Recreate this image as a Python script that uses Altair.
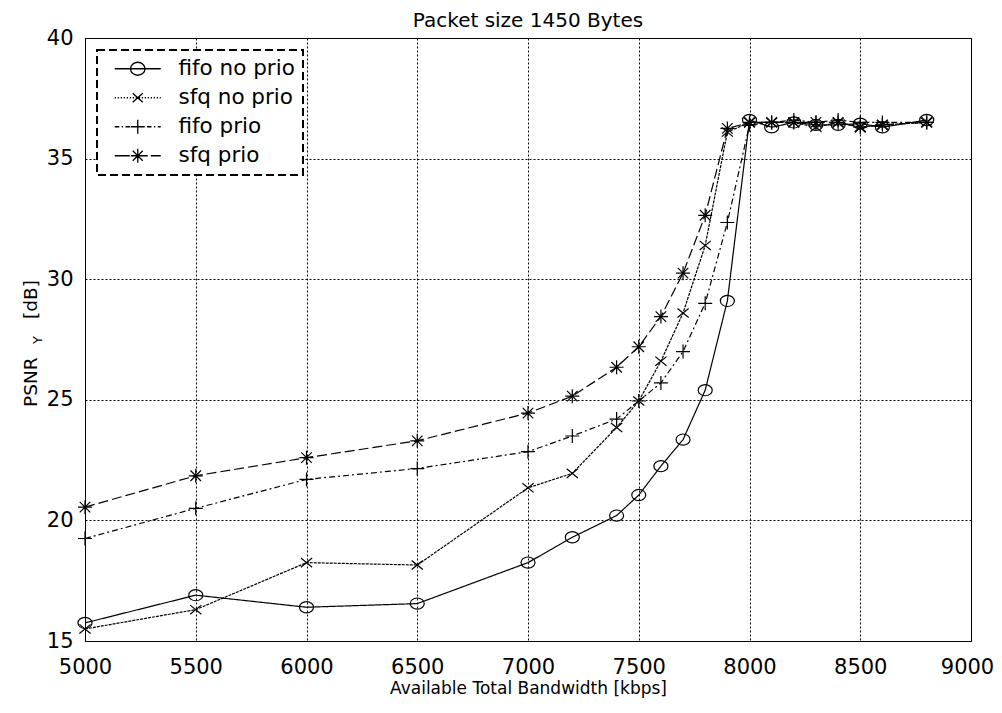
import altair as alt
import pandas as pd

# ---- data ----
x_vals = [5000, 5500, 6000, 6500, 7000, 7200, 7400, 7500, 7600, 7700, 7800,
          7900, 8000, 8100, 8200, 8300, 8400, 8500, 8600, 8800]
fifo_no_prio = [15.75, 16.9, 16.4, 16.55, 18.25, 19.3, 20.2, 21.05, 22.25, 23.35, 25.4,
                29.1, 36.6, 36.3, 36.5, 36.4, 36.4, 36.45, 36.3, 36.6]
sfq_no_prio = [15.5, 16.3, 18.25, 18.15, 21.35, 21.95, 23.85, 24.95, 26.6, 28.6, 31.4,
               36.1, 36.5, 36.5, 36.5, 36.3, 36.5, 36.3, 36.4, 36.5]
fifo_prio = [19.25, 20.5, 21.7, 22.15, 22.85, 23.5, 24.2, 24.95, 25.7, 27.0, 29.0,
             32.35, 36.4, 36.5, 36.6, 36.5, 36.6, 36.5, 36.5, 36.5]
sfq_prio = [20.55, 21.85, 22.6, 23.3, 24.45, 25.15, 26.35, 27.2, 28.45, 30.25, 32.65,
            36.25, 36.5, 36.5, 36.5, 36.5, 36.5, 36.3, 36.4, 36.5]

series_names = ["fifo no prio", "sfq no prio", "fifo prio", "sfq prio"]
x_ticks = [5000, 5500, 6000, 6500, 7000, 7500, 8000, 8500, 9000]
y_ticks = [15, 20, 25, 30, 35, 40]
chart_title = ["Packet size 1450 Bytes"]
x_title = "Available Total Bandwidth [kbps]"
y_title_parts = ["PSNR", "Y", "[dB]"]

rows = []
for name, vals in zip(series_names, [fifo_no_prio, sfq_no_prio, fifo_prio, sfq_prio]):
    for i, (x, y) in enumerate(zip(x_vals, vals)):
        rows.append({"series": name, "bw": x, "psnr": y, "idx": i})
df = pd.DataFrame(rows)

FONT = "DejaVu Sans"

# ---- marker shapes (style) ----
plot_shapes = [
    "M-1,0A1,0.8 0 1,0 1,0A1,0.8 0 1,0 -1,0Z",
    "M-0.8,-0.65L0.8,0.65M-0.8,0.65L0.8,-0.65",
    "M-1,0L1,0M0,-1L0,1",
    "M-1,0L1,0M0,-1L0,1M-0.75,-0.75L0.75,0.75M-0.75,0.75L0.75,-0.75",
]
dashes = [[1, 0], [3, 1], [6, 3, 2, 3], [10, 4]]


def seg_pattern(x0, x1, pattern):
    out, x, k = [], x0, 0
    while x < x1:
        d = pattern[k % len(pattern)]
        if k % 2 == 0:
            out.append("M%.2f,0L%.2f,0" % (x, min(x + d, x1)))
        x += d
        k += 1
    return "".join(out)


L0, L1, MC = -0.2, 9.0, 4.4


def circ(c, r, ry):
    return "M%.2f,0A%.2f,%.2f 0 1,0 %.2f,0A%.2f,%.2f 0 1,0 %.2f,0" % (c - r, r, ry, c + r, r, ry, c - r)


def xmark(c, a, b):
    return "M%.2f,%.2fL%.2f,%.2fM%.2f,%.2fL%.2f,%.2f" % (c - a, -b, c + a, b, c - a, b, c + a, -b)


def plus(c, a):
    return "M%.2f,0L%.2f,0M%.2f,%.2fL%.2f,%.2f" % (c - a, c + a, c, -a, c, a)


legend_shapes = [
    "M%.1f,0L%.1f,0" % (L0, L1) + circ(MC, 1.45, 1.3),
    seg_pattern(L0, L1, [0.25, 0.35]) + xmark(MC, 1.0, 0.9),
    seg_pattern(L0, L1, [0.9, 0.5, 0.25, 0.5]) + plus(MC, 1.4),
    seg_pattern(L0, L1, [3.0, 0.6]) + plus(MC, 1.4) + xmark(MC, 1.0, 1.0),
]

xscale = alt.Scale(domain=[5000, 9000], nice=False, zero=False)
yscale = alt.Scale(domain=[15, 40], nice=False, zero=False)

x_enc = alt.X("bw:Q", scale=xscale, axis=alt.Axis(
    values=x_ticks, title=x_title, format="d",
    labelOffset={"condition": {"test": "datum.value == 9000", "value": -4}, "value": 0},
))
y_enc = alt.Y("psnr:Q", scale=yscale, axis=alt.Axis(values=y_ticks, title=None, format="d"))

base = alt.Chart(df)

lines = base.mark_line(color="black", strokeWidth=1.2).encode(
    x=x_enc, y=y_enc,
    strokeDash=alt.StrokeDash("series:N", scale=alt.Scale(domain=series_names, range=dashes),
                              legend=None),
    order="idx:Q",
)

points = base.mark_point(filled=False, color="black", strokeWidth=1.2, size=196, opacity=1).encode(
    x=x_enc, y=y_enc,
    shape=alt.Shape("series:N", scale=alt.Scale(domain=series_names, range=plot_shapes),
                    legend=None),
)

legend_layer = base.mark_point(filled=False, color="black", opacity=0, size=100).encode(
    x=x_enc, y=y_enc,
    shape=alt.Shape("series:N", scale=alt.Scale(domain=series_names, range=legend_shapes),
                    legend=alt.Legend(
                        title=None, orient="none", legendX=12, legendY=12,
                        symbolOpacity=1, symbolStrokeColor="black", symbolStrokeWidth=1.3,
                        symbolFillColor="transparent", symbolSize=100,
                        labelFont=FONT, labelFontSize=21.5, labelColor="black",
                        labelOffset=52, rowPadding=6, padding=8,
                        fillColor="white", strokeColor="black",
                    )),
)

title_mark = alt.Chart(pd.DataFrame({"t": chart_title})).mark_text(
    align="center", baseline="alphabetic", font=FONT, fontSize=20, color="black"
).encode(text="t:N", x=alt.value(443), y=alt.value(-11))

ytitle_main = alt.Chart(pd.DataFrame({"t": [y_title_parts[0]]})).mark_text(
    angle=270, align="left", baseline="alphabetic", font=FONT, fontSize=18.5, color="black"
).encode(text="t:N", x=alt.value(-48), y=alt.value(369))
ytitle_sub = alt.Chart(pd.DataFrame({"t": [y_title_parts[1]]})).mark_text(
    angle=270, align="left", baseline="alphabetic", font=FONT, fontSize=13, color="black"
).encode(text="t:N", x=alt.value(-43), y=alt.value(306))
ytitle_unit = alt.Chart(pd.DataFrame({"t": [y_title_parts[2]]})).mark_text(
    angle=270, align="left", baseline="alphabetic", font=FONT, fontSize=18.5, color="black"
).encode(text="t:N", x=alt.value(-48), y=alt.value(281))

chart = alt.layer(lines, points, legend_layer, title_mark,
                  ytitle_main, ytitle_sub, ytitle_unit).resolve_scale(
    shape="independent"
).properties(
    width=886, height=603,
    autosize=alt.AutoSizeParams(type="none"),
    padding={"left": 77, "top": 30, "right": 23, "bottom": 60},
).configure_view(
    stroke="black", strokeWidth=1
).configure_axis(
    labelFont=FONT, labelFontSize=21, labelColor="black",
    titleFont=FONT, titleFontSize=17, titleFontWeight="normal", titleColor="black",
    grid=True, gridColor="black", gridDash=[2, 2], gridOpacity=1, gridWidth=1,
    domainColor="black", ticks=False, labelFlush=False,
).configure_axisX(
    labelPadding=15, titlePadding=3,
).configure_axisY(
    labelPadding=12,
).configure_legend(
    strokeDash=[8, 4], strokeWidth=2,
)

chart.save("out.html", embed_options={"renderer": "svg", "actions": False})
